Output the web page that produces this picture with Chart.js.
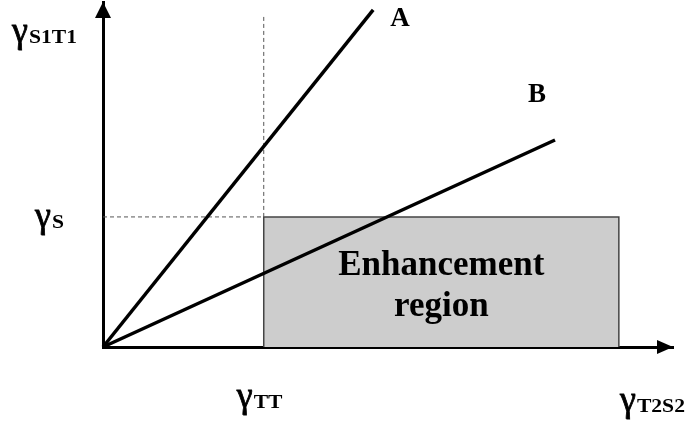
<!DOCTYPE html>
<html>
<head>
<meta charset="utf-8">
<script src="https://cdn.jsdelivr.net/npm/chart.js@4/dist/chart.umd.min.js"></script>
<style>
  body { margin: 0; background: #ffffff; }
  #wrap { width: 689px; height: 431px; }
</style>
</head>
<body>
<div id="wrap"><canvas id="chart" width="689" height="431"></canvas></div>
<script>
// axis extents (arbitrary units, origin at 0,0)
const xMax = 100;
const yMax = 100;

// threshold values
const gammaTT = 28.2;
const gammaS = 37.7;
const regionEnd = 90.5;
const guideTop = 96.5;

// the two operating lines
const lineA = [{ x: 0, y: 0 }, { x: 47.4, y: 97.7 }];
const lineB = [{ x: 0, y: 0 }, { x: 79.3, y: 60.0 }];

// dashed guides from the thresholds
const guideS = [{ x: 0, y: gammaS }, { x: gammaTT, y: gammaS }];
const guideTT = [{ x: gammaTT, y: gammaS }, { x: gammaTT, y: guideTop }];

// shaded enhancement region
const region = [
    { x: gammaTT, y: 0 },
    { x: gammaTT, y: gammaS },
    { x: regionEnd, y: gammaS },
    { x: regionEnd, y: 0 }
];

const regionText = ['Enhancement', 'region'];
const lineNames = ['A', 'B'];

const SERIF = '"Liberation Serif", "Times New Roman", serif';

// γ with a bold, slightly wide subscript
function drawGamma(ctx, sub, left, baseline)
{
    ctx.font = '36px ' + SERIF;
    ctx.textAlign = 'left';
    ctx.textBaseline = 'alphabetic';
    ctx.lineWidth = 0.8;
    ctx.strokeStyle = '#000';
    ctx.fillText('γ', left, baseline - 1);
    ctx.strokeText('γ', left, baseline - 1);
    const w = ctx.measureText('γ').width;
    ctx.font = 'bold 18px ' + SERIF;
    ctx.save();
    ctx.translate(left + w + 1, baseline);
    ctx.scale(1.2, 1);
    ctx.fillText(sub, 0, 0);
    ctx.restore();
}

const annotations = {
    id: 'annotations',
    afterDraw(chart)
    {
        const ctx = chart.ctx;
        const xs = chart.scales.x;
        const ys = chart.scales.y;
        const x0 = xs.getPixelForValue(0);
        const y0 = ys.getPixelForValue(0);
        const xEnd = xs.getPixelForValue(xMax);
        const yEnd = ys.getPixelForValue(yMax);

        ctx.save();
        ctx.fillStyle = '#000';

        // arrow heads
        ctx.beginPath();
        ctx.moveTo(x0, yEnd);
        ctx.lineTo(x0 - 8, yEnd + 16);
        ctx.lineTo(x0 + 8, yEnd + 16);
        ctx.closePath();
        ctx.fill();

        ctx.beginPath();
        ctx.moveTo(xEnd, y0);
        ctx.lineTo(xEnd - 16, y0 - 7);
        ctx.lineTo(xEnd - 16, y0 + 7);
        ctx.closePath();
        ctx.fill();

        // axis and threshold labels
        drawGamma(ctx, 'S1T1', x0 - 91, yEnd + 41);
        drawGamma(ctx, 'S', x0 - 68, ys.getPixelForValue(gammaS) + 11);
        drawGamma(ctx, 'TT', xs.getPixelForValue(gammaTT) - 27, y0 + 61);
        drawGamma(ctx, 'T2S2', xEnd - 53, y0 + 65);

        // line names
        ctx.font = 'bold 27px ' + SERIF;
        ctx.textAlign = 'left';
        const a = lineA[lineA.length - 1];
        const b = lineB[lineB.length - 1];
        ctx.fillText(lineNames[0], xs.getPixelForValue(a.x) + 17, ys.getPixelForValue(a.y) + 16);
        ctx.fillText(lineNames[1], xs.getPixelForValue(b.x) - 27, ys.getPixelForValue(b.y) - 38);

        // region caption
        const cx = (xs.getPixelForValue(gammaTT) + xs.getPixelForValue(regionEnd)) / 2;
        const cy = (ys.getPixelForValue(gammaS) + y0) / 2;
        ctx.font = 'bold 35px ' + SERIF;
        ctx.textAlign = 'center';
        ctx.fillText(regionText[0], cx, cy - 7);
        ctx.fillText(regionText[1], cx, cy + 34);

        ctx.restore();
    }
};

const solid = (data) => ({
    data,
    showLine: true,
    borderColor: '#000',
    borderWidth: 3.5,
    pointRadius: 0,
    fill: false,
    clip: false,
    order: 0
});

const dashed = (data) => ({
    data,
    showLine: true,
    borderColor: '#555',
    borderWidth: 1,
    borderDash: [4, 3],
    pointRadius: 0,
    fill: false,
    clip: false,
    order: 5
});

const hiddenAxis = (max) => ({
    type: 'linear',
    min: 0,
    max: max,
    grid: { display: false, drawTicks: false },
    ticks: { display: false },
    border: { display: true, color: '#000', width: 3 }
});

new Chart(document.getElementById('chart'), {
    type: 'scatter',
    data: {
        datasets: [
            solid(lineA),
            solid(lineB),
            dashed(guideS),
            dashed(guideTT),
            {
                data: region,
                showLine: true,
                borderColor: '#444',
                borderWidth: 1.5,
                backgroundColor: '#cdcdcd',
                pointRadius: 0,
                fill: 'origin',
                clip: false,
                order: 10
            }
        ]
    },
    options: {
        responsive: false,
        animation: false,
        layout: { padding: { left: 103, right: 16, top: 2, bottom: 84 } },
        plugins: {
            legend: { display: false },
            tooltip: { enabled: false }
        },
        scales: {
            x: hiddenAxis(xMax),
            y: hiddenAxis(yMax)
        }
    },
    plugins: [annotations]
});
</script>
</body>
</html>
